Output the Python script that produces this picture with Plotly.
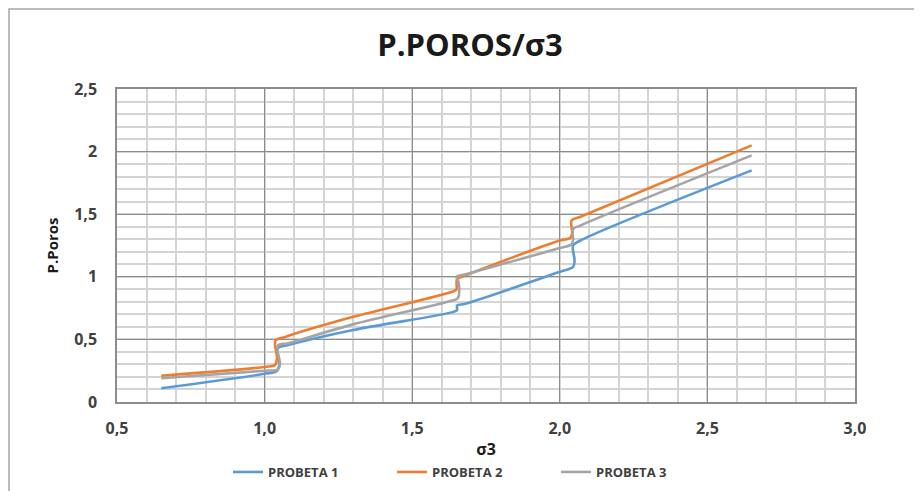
import plotly.graph_objects as go

# Data
p1_x = [0.65, 1.00, 1.04, 1.05, 1.045, 1.08, 1.30, 1.64, 1.652, 1.652, 1.68, 2.00, 2.045, 2.05, 2.045, 2.07, 2.65]
p1_y = [0.11, 0.225, 0.245, 0.30, 0.43, 0.455, 0.575, 0.72, 0.735, 0.77, 0.785, 1.04, 1.08, 1.13, 1.25, 1.29, 1.85]

p2_x = [0.65, 1.00, 1.035, 1.042, 1.037, 1.07, 1.30, 1.64, 1.650, 1.652, 1.68, 2.00, 2.035, 2.042, 2.04, 2.07, 2.65]
p2_y = [0.21, 0.28, 0.295, 0.35, 0.49, 0.52, 0.68, 0.885, 0.90, 0.98, 1.01, 1.29, 1.31, 1.35, 1.45, 1.48, 2.05]

p3_x = [0.65, 1.00, 1.045, 1.052, 1.045, 1.08, 1.30, 1.635, 1.655, 1.657, 1.65, 1.68, 2.00, 2.04, 2.045, 2.045, 2.07, 2.65]
p3_y = [0.19, 0.25, 0.26, 0.30, 0.45, 0.47, 0.62, 0.81, 0.83, 0.96, 1.00, 1.02, 1.23, 1.26, 1.30, 1.38, 1.41, 1.97]

series_names = ["PROBETA 1", "PROBETA 2", "PROBETA 3"]
series_colors = ["#5B9BD5", "#ED7D31", "#A5A5A5"]

x_tickvals = [0.5, 1.0, 1.5, 2.0, 2.5, 3.0]
x_ticktext = ["0,5", "1,0", "1,5", "2,0", "2,5", "3,0"]
y_tickvals = [0, 0.5, 1, 1.5, 2, 2.5]
y_ticktext = ["0", "0,5", "1", "1,5", "2", "2,5"]

FONT = "Open Sans, Roboto, Liberation Sans, sans-serif"
TXT = "#404040"

fig = go.Figure()
for xs, ys, name, col in zip([p1_x, p2_x, p3_x], [p1_y, p2_y, p3_y], series_names, series_colors):
    fig.add_trace(go.Scatter(
        x=xs, y=ys, mode="lines", name=name,
        line=dict(color=col, width=2.6, shape="spline", smoothing=1.0),
    ))

W, H = 922, 491
# the page body adds an 8px offset; compensate so that the plot area sits at 117..855 x 89..402
L, R, T, B = 109, 75, 81, 97
pw, ph = W - L - R, H - T - B

fig.update_layout(
    width=W, height=H,
    margin=dict(l=L, r=R, t=T, b=B),
    paper_bgcolor="white", plot_bgcolor="white",
    title=dict(text="P.POROS/σ3", x=(470 - 8) / W, xref="container", xanchor="center",
               y=1 - 37 / H, yref="container", yanchor="middle",
               font=dict(family=FONT, size=31, color="#1a1a1a", weight="bold")),
    font=dict(family=FONT, color=TXT),
    showlegend=True,
    legend=dict(orientation="h", x=(228 - 117) / pw, xanchor="left",
                y=(402 - 472) / ph, yanchor="middle",
                entrywidth=119, entrywidthmode="pixels",
                font=dict(family=FONT, size=13, color=TXT, weight="bold")),
    xaxis=dict(
        range=[0.5, 3.0], tickvals=x_tickvals, ticktext=x_ticktext,
        showgrid=True, gridcolor="#8c8c8c", gridwidth=1.3,
        minor=dict(dtick=0.1, tick0=0.5, showgrid=True, gridcolor="#d4d4d4", gridwidth=2),
        showline=True, linecolor="#8c8c8c", linewidth=1.5, mirror=True,
        ticks="outside", ticklen=11, tickcolor="rgba(0,0,0,0)",
        tickfont=dict(family=FONT, size=16, color=TXT, weight="bold"),
        title=dict(text="σ3", standoff=6, font=dict(family=FONT, size=16, color="#1a1a1a", weight="bold")),
        zeroline=False, fixedrange=True,
    ),
    yaxis=dict(
        range=[0, 2.5], tickvals=y_tickvals, ticktext=y_ticktext,
        showgrid=True, gridcolor="#8c8c8c", gridwidth=1.3,
        minor=dict(dtick=0.1, tick0=0, showgrid=True, gridcolor="#d4d4d4", gridwidth=2),
        showline=True, linecolor="#8c8c8c", linewidth=1.5, mirror=True,
        ticks="outside", ticklen=15, tickcolor="rgba(0,0,0,0)",
        tickfont=dict(family=FONT, size=16, color=TXT, weight="bold"),
        title=dict(text="P.Poros", standoff=12, font=dict(family=FONT, size=15, color="#1a1a1a", weight="bold")),
        zeroline=False, fixedrange=True,
    ),
)

# outer chart border (top and left edges visible), placed at the figure's own edge
fig.add_shape(type="rect", xref="paper", yref="paper",
              x0=-(L - 1) / pw, x1=(W + 20 - L) / pw,
              y0=-(B + 20) / ph, y1=1 + (T - 1) / ph,
              line=dict(color="#a6a6a6", width=1.5), fillcolor="rgba(0,0,0,0)", layer="below")

fig.write_html("out.html")
